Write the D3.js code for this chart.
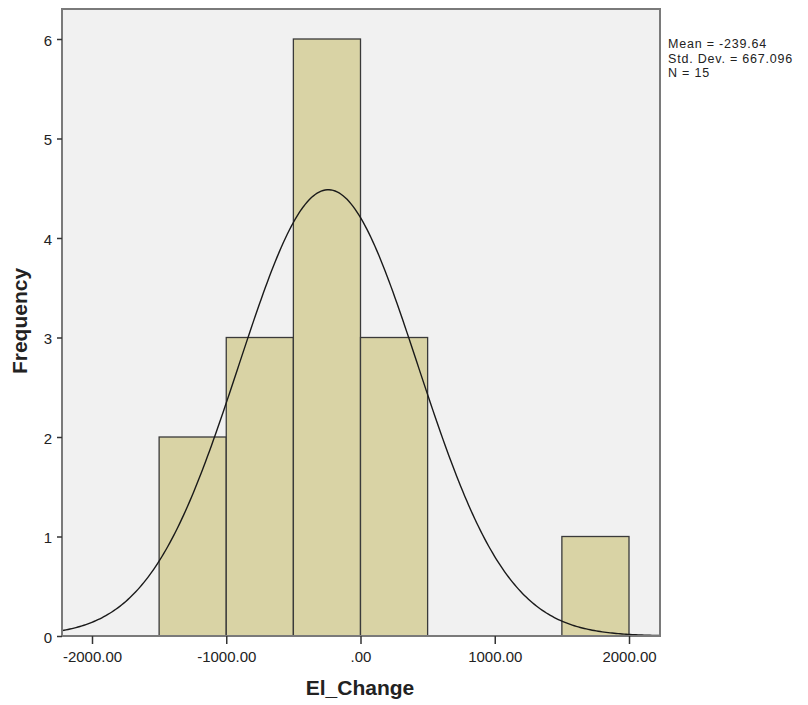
<!DOCTYPE html>
<html>
<head>
<meta charset="utf-8">
<script src="https://cdn.jsdelivr.net/npm/d3@7"></script>
<style>
  body { margin: 0; background: #fff; }
  text { font-family: "Liberation Sans", Arial, sans-serif; }
</style>
</head>
<body>
<div id="chart"></div>
<script>
// histogram bins (lower edge) and counts
var binStarts = [-1500, -1000, -500, 0, 500, 1000, 1500];
var binCounts = [2, 3, 6, 3, 0, 0, 1];
var binWidth = 500;
var xTicks = [-2000, -1000, 0, 1000, 2000];
var yTicks = [0, 1, 2, 3, 4, 5, 6];
var stats = { mean: -239.64, sd: 667.096, n: 15 };
var statLines = ["Mean = -239.64", "Std. Dev. = 667.096", "N = 15"];

var W = 808, H = 705;
var box = { left: 62, right: 660, top: 9, bottom: 636 };

var svg = d3.select("#chart").append("svg")
  .attr("width", W)
  .attr("height", H);

var x = d3.scaleLinear()
  .domain([-2000, 2000])
  .range([92, 629]);
var y = d3.scaleLinear()
  .domain([0, 6])
  .range([box.bottom, 39]);

// plot background
svg.append("rect")
  .attr("x", box.left)
  .attr("y", box.top)
  .attr("width", box.right - box.left)
  .attr("height", box.bottom - box.top)
  .attr("fill", "#f1f1f1");

// bars
svg.selectAll("rect.bar")
  .data(binStarts.map(function(s, i) { return [s, binCounts[i]]; }).filter(function(d) { return d[1] > 0; }))
  .enter()
  .append("rect")
  .attr("class", "bar")
  .attr("x", function(d) { return x(d[0]); })
  .attr("y", function(d) { return y(d[1]); })
  .attr("width", function(d) { return x(d[0] + binWidth) - x(d[0]); })
  .attr("height", function(d) { return y(0) - y(d[1]); })
  .attr("fill", "#d9d3a5")
  .attr("stroke", "#3a3a3a")
  .attr("stroke-width", 1.3);

// fitted normal curve from the stated mean / sd
var xMin = x.invert(box.left), xMax = x.invert(box.right);
var curve = d3.range(0, 301).map(function(i) {
  var v = xMin + (xMax - xMin) * i / 300;
  var z = (v - stats.mean) / stats.sd;
  var f = stats.n * binWidth / (stats.sd * Math.sqrt(2 * Math.PI)) * Math.exp(-0.5 * z * z);
  return [v, f];
});
svg.append("path")
  .datum(curve)
  .attr("fill", "none")
  .attr("stroke", "#1a1a1a")
  .attr("stroke-width", 1.4)
  .attr("d", d3.line().x(function(d) { return x(d[0]); }).y(function(d) { return y(d[1]); }));

// frame
svg.append("rect")
  .attr("x", box.left)
  .attr("y", box.top)
  .attr("width", box.right - box.left)
  .attr("height", box.bottom - box.top)
  .attr("fill", "none")
  .attr("stroke", "#7a7a7a")
  .attr("stroke-width", 2);

// y axis
var yAxis = d3.axisLeft(y).tickValues(yTicks).tickSize(5).tickPadding(5).tickFormat(d3.format("d"));
var gy = svg.append("g").attr("transform", "translate(" + box.left + ",0)").call(yAxis);
gy.select(".domain").remove();
gy.selectAll("line").attr("stroke", "#333").attr("stroke-width", 1.5);
gy.selectAll("text").attr("font-size", 15).attr("dy", "0.42em").attr("fill", "#222")
  .style("font-family", "Liberation Sans, Arial, sans-serif");

// x axis
var xAxis = d3.axisBottom(x).tickValues(xTicks).tickSize(8).tickPadding(7)
  .tickFormat(function(d) { return d === 0 ? ".00" : d3.format(".2f")(d).replace("−", "-"); });
var gx = svg.append("g").attr("transform", "translate(0," + box.bottom + ")").call(xAxis);
gx.select(".domain").remove();
gx.selectAll("line").attr("stroke", "#333").attr("stroke-width", 1.5);
gx.selectAll("text").attr("font-size", 15).attr("fill", "#222")
  .style("font-family", "Liberation Sans, Arial, sans-serif");

// axis titles
svg.append("text")
  .attr("x", 360)
  .attr("y", 695)
  .attr("text-anchor", "middle")
  .attr("font-size", 21)
  .attr("font-weight", "bold")
  .attr("fill", "#222")
  .text("El_Change");

svg.append("text")
  .attr("transform", "translate(27,321) rotate(-90)")
  .attr("text-anchor", "middle")
  .attr("font-size", 21)
  .attr("font-weight", "bold")
  .attr("fill", "#222")
  .text("Frequency");

// stats box
svg.selectAll("text.stat")
  .data(statLines)
  .enter()
  .append("text")
  .attr("class", "stat")
  .attr("x", 668)
  .attr("y", function(d, i) { return 48 + i * 14.5; })
  .attr("font-size", 12.5)
  .style("letter-spacing", "0.8px")
  .attr("fill", "#222")
  .text(function(d) { return d; });
</script>
</body>
</html>
